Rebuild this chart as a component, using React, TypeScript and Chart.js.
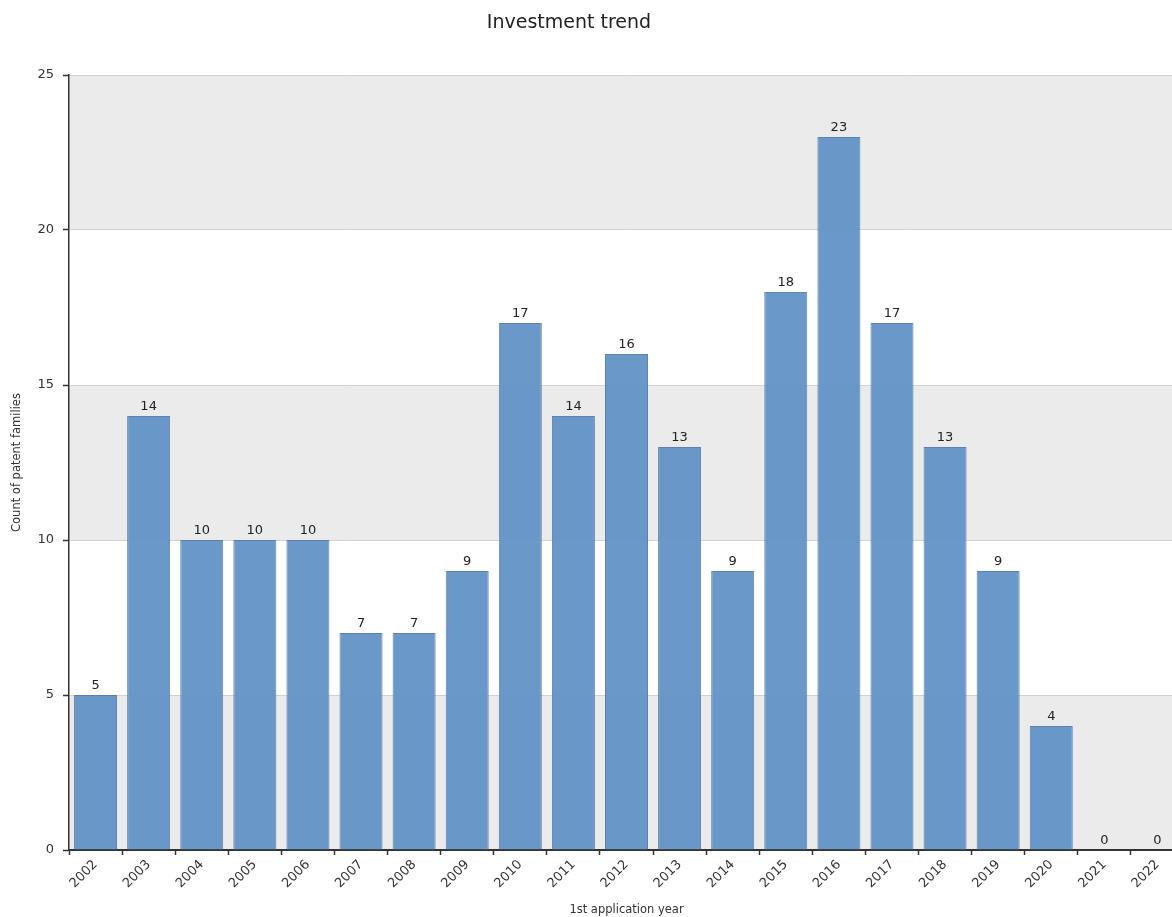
import React, { useEffect, useRef } from "react";
import { Chart, registerables } from "chart.js";

Chart.register(...registerables);

const chartTitle = "Investment trend";
const xAxisTitle = "1st application year";
const yAxisTitle = "Count of patent families";

const years = [
  "2002", "2003", "2004", "2005", "2006", "2007", "2008", "2009", "2010", "2011",
  "2012", "2013", "2014", "2015", "2016", "2017", "2018", "2019", "2020", "2021", "2022",
];
const familyCounts = [5, 14, 10, 10, 10, 7, 7, 9, 17, 14, 16, 13, 9, 18, 23, 17, 13, 9, 4, 0, 0];

const yMin = 0;
const yMax = 25;
const yStep = 5;
// shaded horizontal bands (value ranges)
const shadedBands: [number, number][] = [
  [0, 5],
  [10, 15],
  [20, 25],
];

const FONT = "'DejaVu Sans', Verdana, sans-serif";
const TEXT = "#333333";

const bandPlugin = {
  id: "bands",
  beforeDraw(chart: any) {
    const { ctx, chartArea, scales } = chart;
    const y = scales.y;
    ctx.save();
    ctx.fillStyle = "#ebebeb";
    for (const [lo, hi] of shadedBands) {
      const top = y.getPixelForValue(hi);
      const bottom = y.getPixelForValue(lo);
      ctx.fillRect(chartArea.left, top, chartArea.right - chartArea.left, bottom - top);
    }
    ctx.restore();
  },
};

const titlePlugin = {
  id: "centerTitle",
  afterDraw(chart: any) {
    const { ctx } = chart;
    ctx.save();
    ctx.font = `19px ${FONT}`;
    ctx.fillStyle = "#222222";
    ctx.textAlign = "center";
    ctx.textBaseline = "middle";
    ctx.fillText(chartTitle, 569, 23);
    ctx.restore();
  },
};

const valueLabelPlugin = {
  id: "valueLabels",
  afterDatasetsDraw(chart: any) {
    const { ctx } = chart;
    const meta = chart.getDatasetMeta(0);
    const data = chart.data.datasets[0].data as number[];
    ctx.save();
    ctx.font = `13px ${FONT}`;
    ctx.fillStyle = "#222222";
    ctx.textAlign = "center";
    ctx.textBaseline = "bottom";
    meta.data.forEach((bar: any, i: number) => {
      ctx.fillText(String(data[i]), bar.x, bar.y - 3);
    });
    ctx.restore();
  },
};

export default function App() {
  const canvasRef = useRef<HTMLCanvasElement | null>(null);

  useEffect(() => {
    if (!canvasRef.current) return;
    const chart = new Chart(canvasRef.current, {
      type: "bar",
      data: {
        labels: years,
        datasets: [
          {
            data: familyCounts,
            backgroundColor: "rgba(98,147,198,0.95)",
            borderColor: "rgba(78,118,168,0.9)",
            borderWidth: 1,
            barPercentage: 0.81,
            categoryPercentage: 1,
          },
        ],
      },
      options: {
        animation: false,
        responsive: false,
        maintainAspectRatio: false,
        layout: { padding: { top: 75, right: 0, bottom: 0, left: 0 } },
        plugins: {
          legend: { display: false },
          title: { display: false },
          tooltip: { enabled: false },
        },
        scales: {
          x: {
            afterFit(scale: any) {
              scale.height = 67;
            },
            grid: {
              drawOnChartArea: false,
              drawTicks: true,
              tickLength: 5,
              tickColor: TEXT,
              tickWidth: 1.5,
            },
            border: { color: TEXT, width: 2 },
            ticks: {
              color: TEXT,
              font: { family: FONT, size: 13 },
              minRotation: 45,
              maxRotation: 45,
              padding: 2,
              autoSkip: false,
            },
            title: {
              display: true,
              text: xAxisTitle,
              color: TEXT,
              font: { family: FONT, size: 11.5 },
              padding: { top: 0, bottom: 0 },
            },
          },
          y: {
            min: yMin,
            max: yMax,
            afterFit(scale: any) {
              scale.width = 69;
            },
            ticks: {
              stepSize: yStep,
              color: TEXT,
              font: { family: FONT, size: 13 },
              padding: 9,
            },
            grid: {
              color: "#d2d2d2",
              lineWidth: 1,
              drawTicks: true,
              tickLength: 6,
              tickColor: TEXT,
              tickWidth: 1.5,
            },
            border: { color: TEXT, width: 1.5 },
            title: {
              display: true,
              text: yAxisTitle,
              color: TEXT,
              font: { family: FONT, size: 11.5 },
              padding: { top: 10, bottom: 0 },
            },
          },
        },
      },
      plugins: [bandPlugin, valueLabelPlugin, titlePlugin],
    });
    return () => chart.destroy();
  }, []);

  return (
    <div
      style={{
        position: "fixed",
        left: 0,
        top: 0,
        width: 1172,
        height: 917,
        overflow: "hidden",
        background: "#ffffff",
      }}
    >
      <canvas ref={canvasRef} width={1184} height={917} style={{ display: "block" }} />
    </div>
  );
}
